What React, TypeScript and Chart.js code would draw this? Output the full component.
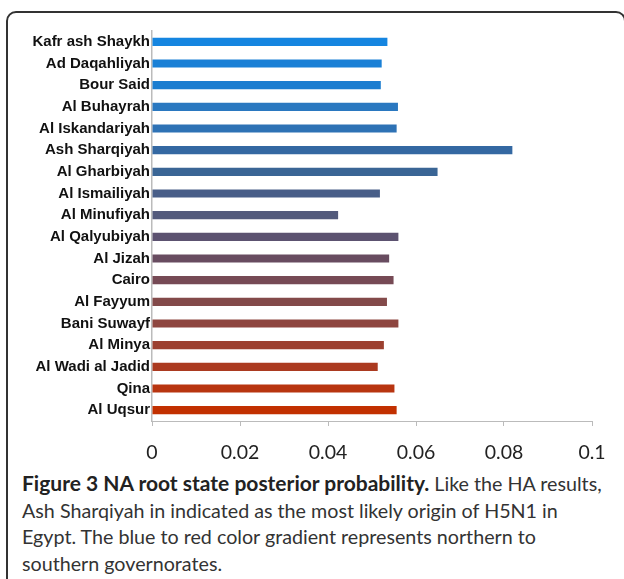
import React, { useEffect, useRef } from "react";
import { Chart, registerables } from "chart.js";

Chart.register(...registerables);

const governorates = [
  "Kafr ash Shaykh",
  "Ad Daqahliyah",
  "Bour Said",
  "Al Buhayrah",
  "Al Iskandariyah",
  "Ash Sharqiyah",
  "Al Gharbiyah",
  "Al Ismailiyah",
  "Al Minufiyah",
  "Al Qalyubiyah",
  "Al Jizah",
  "Cairo",
  "Al Fayyum",
  "Bani Suwayf",
  "Al Minya",
  "Al Wadi al Jadid",
  "Qina",
  "Al Uqsur",
];

const probabilities = [
  0.0535, 0.0522, 0.052, 0.0559, 0.0556, 0.0819, 0.0649, 0.0518, 0.0423,
  0.056, 0.0539, 0.0549, 0.0534, 0.056, 0.0527, 0.0513, 0.0551, 0.0556,
];

const barColors = [
  "#1585e0", "#1a80d6", "#1b7dd0", "#2a78c0", "#2e72b5", "#3468a2",
  "#3a6595", "#485e88", "#535a7c", "#5c5270", "#684c60", "#764a55",
  "#834a4a", "#8e4640", "#9c4030", "#ab3a20", "#b83510", "#c23000",
];

const tickValues = [0, 0.02, 0.04, 0.06, 0.08, 0.1];
const tickLabels = ["0", "0.02", "0.04", "0.06", "0.08", "0.1"];

const captionBold = "Figure 3 NA root state posterior probability.";
const captionLines = [
  " Like the HA results,",
  "Ash Sharqiyah in indicated as the most likely origin of H5N1 in",
  "Egypt. The blue to red color gradient represents northern to",
  "southern governorates.",
];

export default function App() {
  const canvasRef = useRef<HTMLCanvasElement | null>(null);

  useEffect(() => {
    if (!canvasRef.current) return;
    const chart = new Chart(canvasRef.current, {
      type: "bar",
      data: {
        labels: governorates,
        datasets: [
          {
            data: probabilities,
            backgroundColor: barColors,
            borderWidth: 0,
            categoryPercentage: 1,
            barPercentage: 0.38,
          },
        ],
      },
      options: {
        indexAxis: "y",
        animation: false,
        responsive: false,
        maintainAspectRatio: false,
        layout: { padding: { left: 0, right: 32, top: 31, bottom: 0 } },
        plugins: {
          legend: { display: false },
          tooltip: { enabled: false },
          title: { display: false },
        },
        scales: {
          x: {
            type: "linear",
            min: 0,
            max: 0.1,
            afterBuildTicks: (scale: any) => {
              scale.ticks = tickValues.map((v) => ({ value: v }));
            },
            afterFit: (scale: any) => {
              scale.height = 49;
            },
            ticks: {
              callback: (v: any) => {
                const i = tickValues.findIndex((t) => Math.abs(t - Number(v)) < 1e-9);
                return i >= 0 ? tickLabels[i] : "";
              },
              font: { family: "Lato", size: 19.5 },
              color: "#222",
              padding: 15,
              maxRotation: 0,
            },
            grid: {
              drawOnChartArea: false,
              drawTicks: true,
              tickLength: 5,
              color: "#bbbbbb",
            },
            border: { display: true, color: "#bbbbbb", width: 1 },
          },
          y: {
            type: "category",
            afterFit: (scale: any) => {
              scale.width = 152;
            },
            ticks: {
              font: { family: "Liberation Sans", size: 15, weight: "bold" },
              color: "#111",
              padding: 2,
              autoSkip: false,
            },
            grid: { drawOnChartArea: false, drawTicks: false, tickLength: 0 },
            border: { display: true, color: "#bbbbbb", width: 1.5 },
          },
        },
      },
    });
    return () => chart.destroy();
  }, []);

  return (
    <div
      style={{
        position: "absolute",
        left: 0,
        top: 0,
        width: 624,
        height: 579,
        overflow: "hidden",
        background: "#fff",
      }}
    >
      <div
        style={{
          position: "absolute",
          left: 6,
          top: 11,
          width: 620,
          height: 640,
          boxSizing: "border-box",
          border: "2px solid #333",
          borderRadius: 10,
        }}
      />
      <canvas
        ref={canvasRef}
        width={624}
        height={470}
        style={{ position: "absolute", left: 0, top: 0, width: 624, height: 470 }}
      />
      <div
        style={{
          position: "absolute",
          left: 22,
          top: 470,
          fontFamily: "Lato, 'Open Sans', sans-serif",
          fontSize: 19.7,
          lineHeight: "26.6px",
          color: "#333",
          whiteSpace: "nowrap",
        }}
      >
        {captionLines.map((line, i) => (
          <div key={i}>
            {i === 0 ? (
              <span style={{ fontWeight: "bold", color: "#222", fontSize: 21 }}>{captionBold}</span>
            ) : null}
            {line}
          </div>
        ))}
      </div>
    </div>
  );
}
